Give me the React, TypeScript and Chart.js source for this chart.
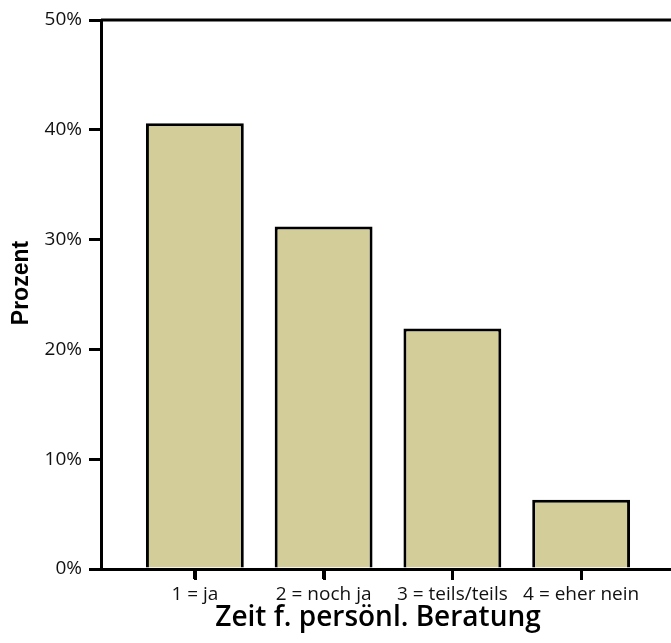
import React, { useEffect, useRef } from "react";
import { Chart, registerables } from "chart.js";

Chart.register(...registerables);

const categories = ["1 = ja", "2 = noch ja", "3 = teils/teils", "4 = eher nein"];
const percentValues = [40.6, 31.2, 21.9, 6.3];
const yTicks = [0, 10, 20, 30, 40, 50];
const yAxisTitle = "Prozent";
const xAxisTitle = "Zeit f. persönl. Beratung";

const decor = {
  id: "decor",
  afterDraw(chart: any) {
    const { ctx, chartArea } = chart;
    const xs = chart.scales.x;
    ctx.save();
    ctx.strokeStyle = "#000";
    ctx.lineWidth = 3;
    ctx.beginPath();
    ctx.moveTo(chartArea.left, chartArea.top);
    ctx.lineTo(chart.width, chartArea.top);
    ctx.stroke();

    // x tick marks at category positions
    ctx.beginPath();
    categories.forEach((_, i) => {
      const px = Math.round(xs.getPixelForValue(i + 1)) + 0.5;
      ctx.moveTo(px, chartArea.bottom + 1);
      ctx.lineTo(px, chartArea.bottom + 11);
    });
    ctx.stroke();

    ctx.fillStyle = "#000";
    ctx.textAlign = "center";
    ctx.textBaseline = "alphabetic";
    ctx.font = "600 28px 'Open Sans'";
    ctx.fillText(xAxisTitle, 378, 626);

    ctx.translate(28, 283);
    ctx.rotate(-Math.PI / 2);
    ctx.font = "bold 23px 'Liberation Sans'";
    ctx.fillText(yAxisTitle, 0, 0);
    ctx.restore();
  },
};

export default function App() {
  const ref = useRef<HTMLCanvasElement>(null);
  useEffect(() => {
    if (!ref.current) return;
    const chart = new Chart(ref.current, {
      type: "bar",
      data: {
        datasets: [
          {
            data: percentValues.map((v, i) => ({ x: i + 1, y: v })),
            backgroundColor: "#d3ce99",
            borderColor: "#000",
            borderWidth: 3,
            barPercentage: 0.76,
            categoryPercentage: 1,
          },
        ],
      },
      options: {
        animation: false,
        responsive: false,
        maintainAspectRatio: false,
        layout: { padding: { top: 20, right: 0, left: 0, bottom: 0 } },
        plugins: { legend: { display: false }, tooltip: { enabled: false } },
        scales: {
          x: {
            type: "linear",
            offset: false,
            min: 0.271,
            max: 4.698,
            afterBuildTicks: (s: any) => {
              s.ticks = categories.map((_, i) => ({ value: i + 1 }));
            },
            afterFit: (s: any) => {
              s.height = 74;
            },
            border: { display: true, color: "#000", width: 3 },
            grid: {
              offset: false,
              drawOnChartArea: false,
              drawTicks: true,
              tickLength: 10,
              color: "#000",
              lineWidth: 3,
            },
            ticks: {
              autoSkip: false,
              maxRotation: 0,
              padding: 4,
              color: "#111",
              font: { family: "Open Sans", size: 19 },
              callback: (v: any) => categories[Math.round(Number(v)) - 1] ?? "",
            },
          },
          y: {
            min: 0,
            max: 50,
            afterBuildTicks: (s: any) => {
              s.ticks = yTicks.map((v) => ({ value: v }));
            },
            afterFit: (s: any) => {
              s.width = 101;
            },
            border: { display: true, color: "#000", width: 3 },
            grid: {
              drawOnChartArea: false,
              drawTicks: true,
              tickLength: 12,
              color: "#000",
              lineWidth: 3,
            },
            ticks: {
              padding: 7,
              color: "#111",
              font: { family: "Open Sans", size: 19 },
              callback: (v: any) => v + "%",
            },
          },
        },
      },
      plugins: [decor],
    });
    return () => chart.destroy();
  }, []);
  return (
    <div style={{ position: "fixed", left: 0, top: 0, width: 671, height: 643, background: "#fff" }}>
      <canvas ref={ref} width={671} height={643} style={{ width: 671, height: 643 }} />
    </div>
  );
}
